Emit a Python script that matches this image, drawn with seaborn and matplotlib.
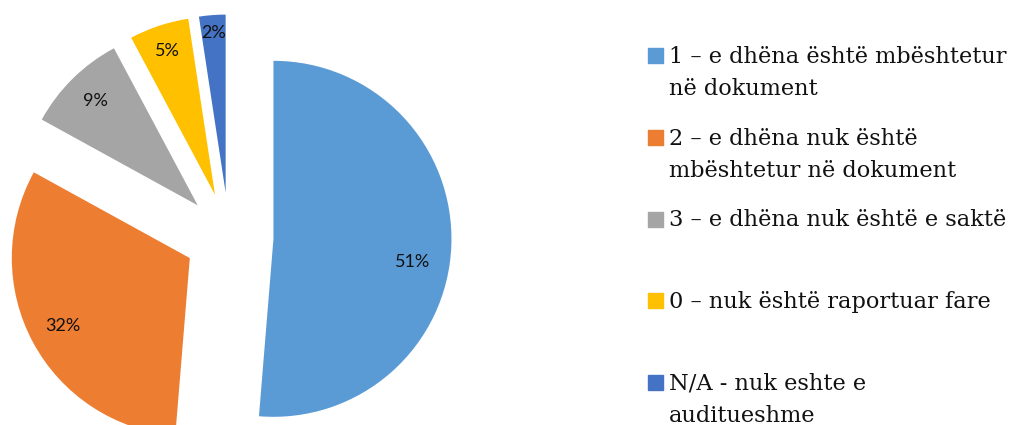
import matplotlib
matplotlib.use("Agg")
import numpy as np
import matplotlib.pyplot as plt
from matplotlib.patches import Rectangle
import seaborn as sns

# Data
labels = [
    "1 – e dhëna është mbështetur\nnë dokument",
    "2 – e dhëna nuk është\nmbështetur në dokument",
    "3 – e dhëna nuk është e saktë",
    "0 – nuk është raportuar fare",
    "N/A - nuk eshte e\nauditueshme",
]
shares = [51.3, 31.7, 9.2, 5.4, 2.4]
colors = ["#5B9BD5", "#ED7D31", "#A5A5A5", "#FFC000", "#4472C4"]

sns.set_style("white")

W, H = 1014, 425
fig = plt.figure(figsize=(W / 100, H / 100), dpi=100)

# pie radius in px and its centre (px from top-left)
R = 178.0
cx, cy = 229.0, 237.0
ax = fig.add_axes([0, 0, 1, 1])
wedges, texts, autotexts = ax.pie(
    shares, colors=colors, startangle=90, counterclock=False,
    explode=[0.25] * len(shares), autopct="%.0f%%", pctdistance=0.8,
    wedgeprops={"linewidth": 0},
    textprops={"fontsize": 13, "family": ["Lato", "DejaVu Sans"], "color": "#111111"},
)
# Excel-like "best fit" label placement: radial distance and small angle shift
label_dist = [0.79, 0.81, 0.82, 0.85, 0.9]
label_shift = [-7, 0, 0, 0, 0]
for w, t, d, s in zip(wedges, autotexts, label_dist, label_shift):
    mid = np.deg2rad((w.theta1 + w.theta2) / 2 + s)
    t.set_position((w.center[0] + d * np.cos(mid), w.center[1] + d * np.sin(mid)))

ax.set_xlim(-cx / R, (W - cx) / R)
ax.set_ylim(-(H - cy) / R, cy / R)
ax.set_aspect("equal")
ax.axis("off")

# Legend drawn in equal slots like the original
sq = 15
x_sq = 648
x_txt = 669
line_gap = 32
y_centers = [55.5, 137.5, 219, 300.5, 382]
for lab, col, yc in zip(labels, colors, y_centers):
    fig.patches.append(Rectangle((x_sq / W, 1 - (yc + sq / 2) / H), sq / W, sq / H,
                                 transform=fig.transFigure, color=col, figure=fig))
    for k, line in enumerate(lab.split("\n")):
        base = yc + sq / 2 + k * line_gap
        fig.text(x_txt / W, 1 - base / H, line, ha="left", va="baseline",
                 fontsize=16.2, family=["DejaVu Serif"], color="#111111")

fig.savefig("out.png", dpi=100)
